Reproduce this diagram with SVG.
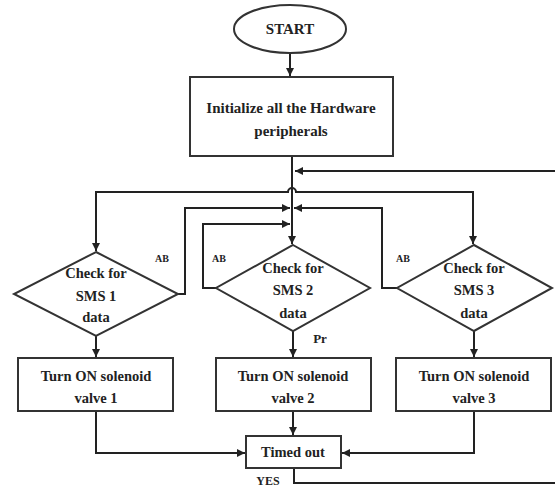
<svg xmlns="http://www.w3.org/2000/svg" width="555" height="487" viewBox="0 0 555 487">
<style>
.s{fill:#fff;stroke:#333;stroke-width:2}
.c{fill:none;stroke:#222;stroke-width:2}
.t{font-family:"Liberation Serif","Times New Roman",serif;font-weight:bold;font-size:14.5px;fill:#222;text-anchor:middle}
.l{font-family:"Liberation Serif","Times New Roman",serif;font-weight:bold;font-size:10px;fill:#222;text-anchor:middle}
</style>
<defs>
<marker id="a" markerUnits="userSpaceOnUse" markerWidth="10" markerHeight="10" refX="8" refY="4" orient="auto">
<path d="M0,0 L8,4 L0,8 z" fill="#222"/>
</marker>
</defs>
<rect width="555" height="487" fill="#fff"/>
<g id="connectors">
<path class="c" d="M290,53 V76" marker-end="url(#a)"/>
<path class="c" d="M292,156 V244" marker-end="url(#a)"/>
<path class="c" d="M294,468 V483 H557 V171 H295" marker-end="url(#a)"/>
<path class="c" d="M96,192 H288 A4,4 0 0 1 296,192 H473"/>
<path class="c" d="M96,191 V251" marker-end="url(#a)"/>
<path class="c" d="M473,191 V244" marker-end="url(#a)"/>
<path class="c" d="M176,294 H185 V208 H290" marker-end="url(#a)"/>
<path class="c" d="M397,288 H382 V208 H294" marker-end="url(#a)"/>
<path class="c" d="M218,288 H203 V224 H290" marker-end="url(#a)"/>
<path class="c" d="M96,336 V357" marker-end="url(#a)"/>
<path class="c" d="M293,331 V357" marker-end="url(#a)"/>
<path class="c" d="M474,331 V357" marker-end="url(#a)"/>
<path class="c" d="M96,411 V453 H245" marker-end="url(#a)"/>
<path class="c" d="M293,411 V435" marker-end="url(#a)"/>
<path class="c" d="M474,411 V453 H342" marker-end="url(#a)"/>
</g>
<g id="start">
<ellipse class="s" cx="290" cy="29" rx="56" ry="24"/>
<text class="t" x="290" y="34" style="font-size:15px">START</text>
</g>
<g id="init">
<rect class="s" x="190" y="77" width="203" height="79"/>
<text class="t" x="291" y="113" style="font-size:15px">Initialize all the Hardware</text>
<text class="t" x="291" y="136" style="font-size:15px">peripherals</text>
</g>
<g id="check1">
<polygon class="s" points="96,252 178,294 96,336 14,294"/>
<text class="t" x="96" y="278">Check for</text>
<text class="t" x="96" y="301">SMS 1</text>
<text class="t" x="96" y="322">data</text>
</g>
<g id="check2">
<polygon class="s" points="293,245 370,288 293,331 216,288"/>
<text class="t" x="293" y="273">Check for</text>
<text class="t" x="293" y="295">SMS 2</text>
<text class="t" x="293" y="318">data</text>
</g>
<g id="check3">
<polygon class="s" points="474,245 552,288 474,331 397,288"/>
<text class="t" x="474" y="273">Check for</text>
<text class="t" x="474" y="295">SMS 3</text>
<text class="t" x="474" y="318">data</text>
</g>
<g id="labels">
<text class="l" x="162" y="262">AB</text>
<text class="l" x="219" y="262">AB</text>
<text class="l" x="403" y="262">AB</text>
<text class="t" x="320" y="343" style="font-size:13px">Pr</text>
<text class="t" x="268" y="485" style="font-size:12px">YES</text>
</g>
<g id="valve1">
<rect class="s" x="18" y="358" width="155" height="53"/>
<text class="t" x="96" y="381">Turn ON solenoid</text>
<text class="t" x="96" y="403">valve 1</text>
</g>
<g id="valve2">
<rect class="s" x="216" y="358" width="155" height="53"/>
<text class="t" x="293" y="381">Turn ON solenoid</text>
<text class="t" x="293" y="403">valve 2</text>
</g>
<g id="valve3">
<rect class="s" x="396" y="358" width="155" height="53"/>
<text class="t" x="474" y="381">Turn ON solenoid</text>
<text class="t" x="474" y="403">valve 3</text>
</g>
<g id="timedout">
<rect class="s" x="246" y="436" width="95" height="32"/>
<text class="t" x="293" y="457">Timed out</text>
</g>
</svg>
